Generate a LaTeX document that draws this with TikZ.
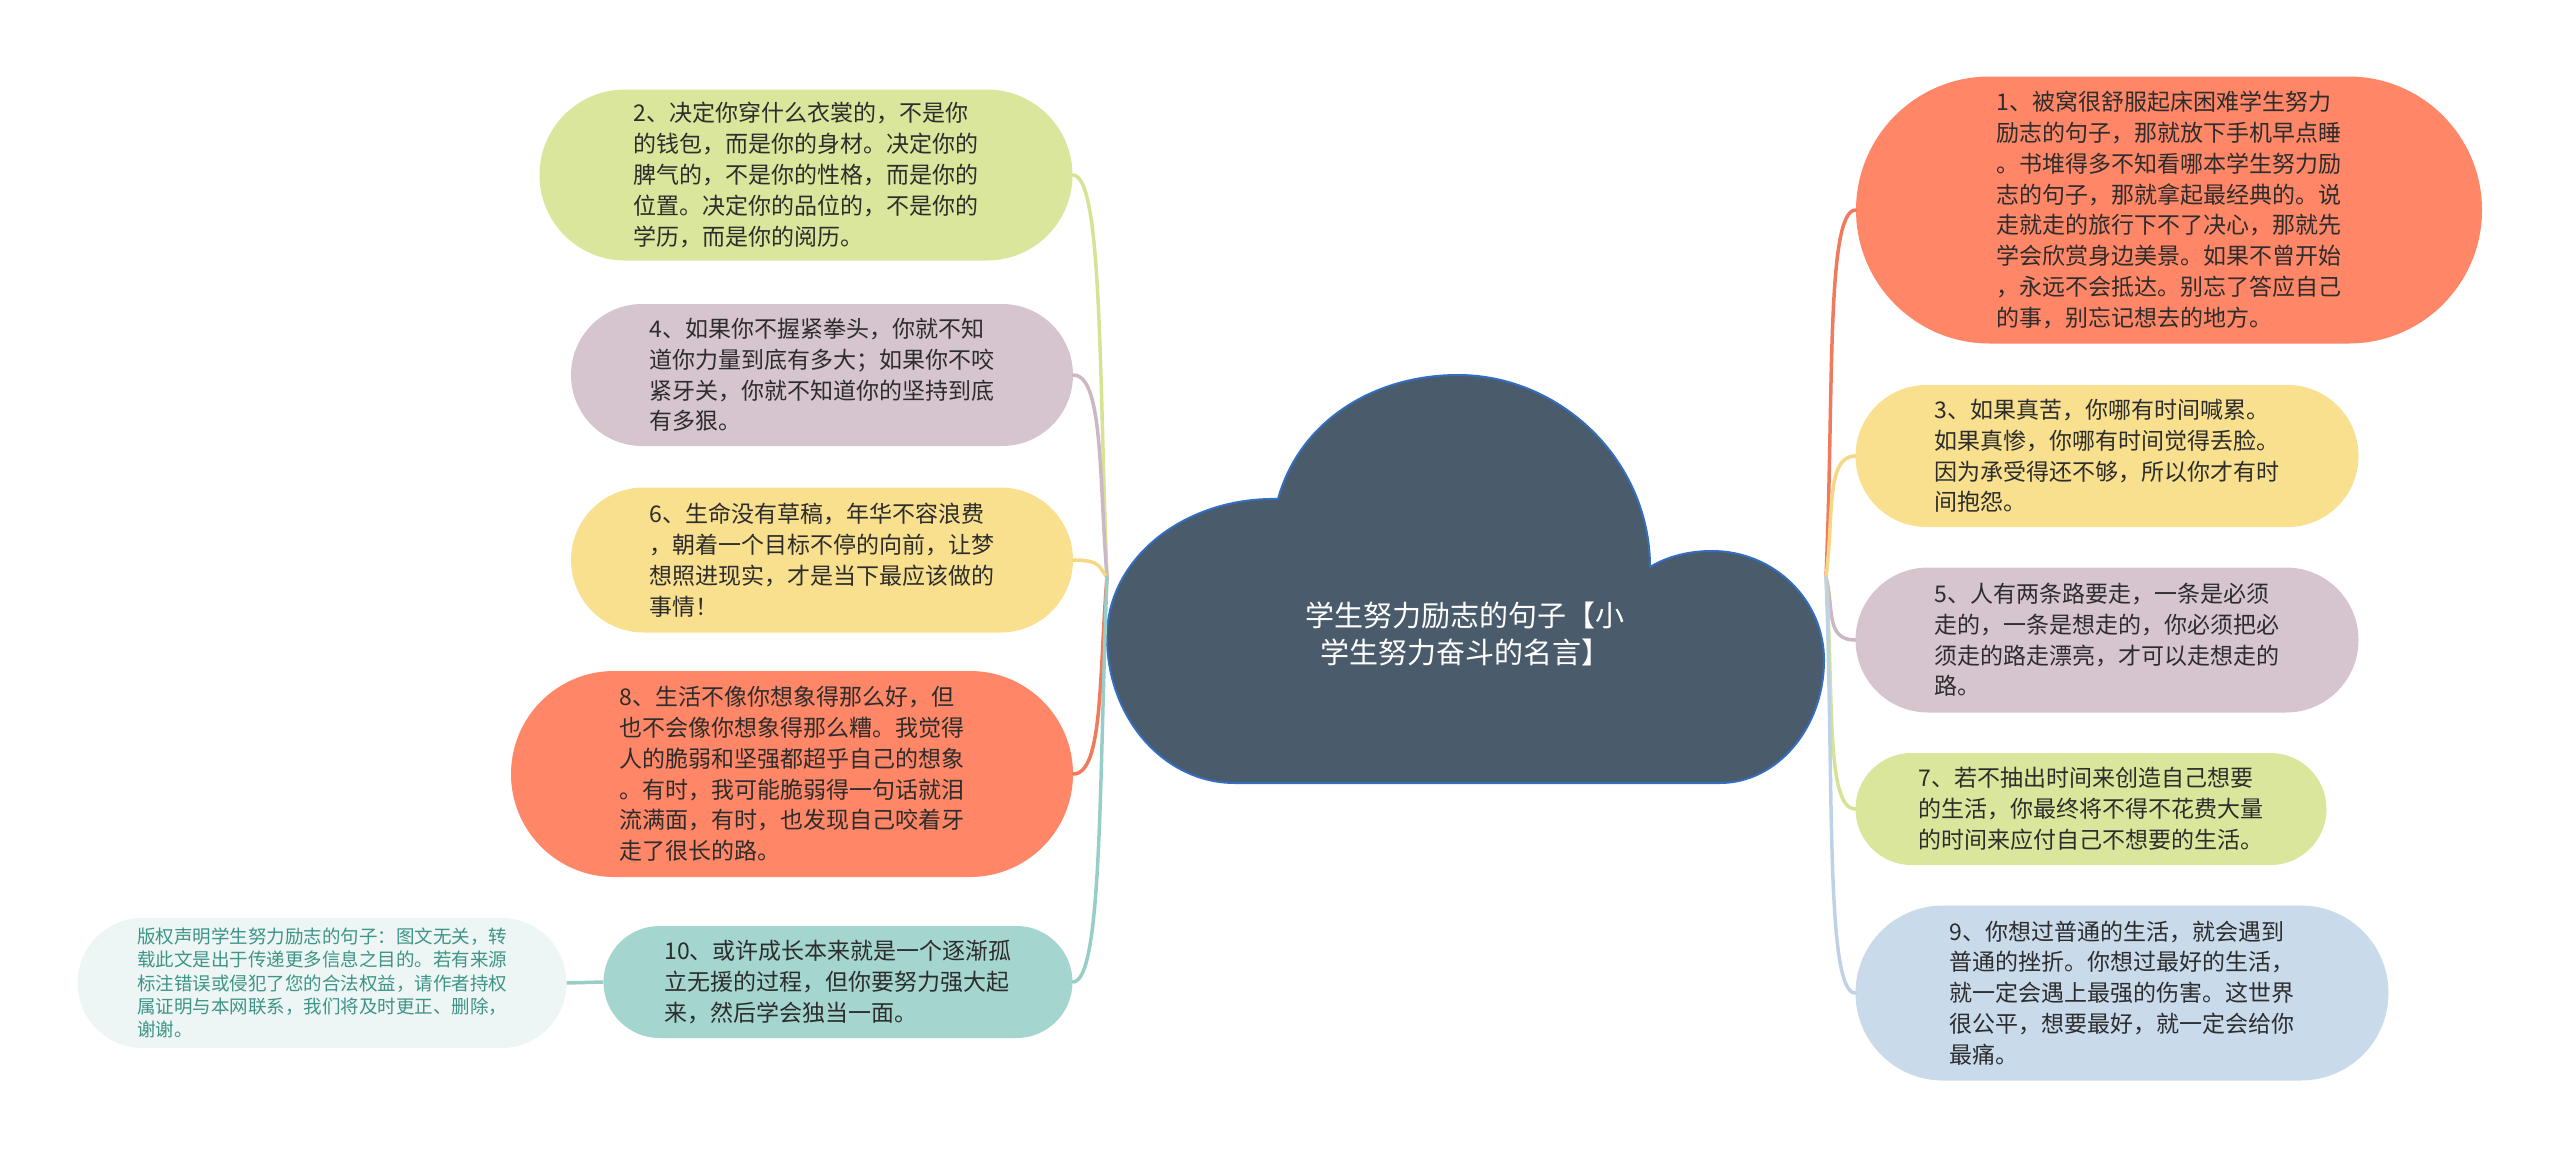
\documentclass[tikz,border=0pt]{standalone}
\usepackage{fontspec}
\setmainfont{Noto Sans CJK SC}
\usetikzlibrary{shapes.misc}

\definecolor{fgreen}{RGB}{218,230,155}
\definecolor{fmauve}{RGB}{214,196,207}
\definecolor{fyellow}{RGB}{248,224,142}
\definecolor{fsalmon}{RGB}{255,134,103}
\definecolor{fteal}{RGB}{164,213,207}
\definecolor{fblue}{RGB}{201,218,235}
\definecolor{fnote}{RGB}{237,246,244}
\definecolor{notetext}{RGB}{62,148,136}
\definecolor{lgreen}{RGB}{214,226,148}
\definecolor{lmauve}{RGB}{204,184,197}
\definecolor{lyellow}{RGB}{246,216,132}
\definecolor{lsalmon}{RGB}{240,122,92}
\definecolor{lteal}{RGB}{152,206,200}
\definecolor{lblue}{RGB}{190,210,230}
\definecolor{cloudfill}{RGB}{74,91,107}
\definecolor{cloudedge}{RGB}{52,110,190}
\definecolor{leaftext}{RGB}{45,45,45}

\begin{document}
\begin{tikzpicture}[x=1pt,y=-1pt,
  leaf/.style={rounded rectangle, inner sep=0pt, align=left, text=leaftext,
    font=\fontsize{23}{30.8}\selectfont},
  note/.style={rounded rectangle, inner sep=0pt, align=left, fill=fnote, text=notetext,
    font=\fontsize{18.5}{23.3}\selectfont},
  link/.style={line width=3.5pt, line cap=round}]
        \useasboundingbox (0,0) rectangle (2560,1159);
        % central cloud
        \fill[cloudfill, draw=cloudedge, line width=2pt] (1235,783)
          .. controls (1164,783) and (1107,718) .. (1107,637)
          .. controls (1107,558) and (1185,497) .. (1278,499)
          .. controls (1300,420) and (1375,375) .. (1458,375)
          .. controls (1560,375) and (1650,460) .. (1650,567)
          .. controls (1668,556) and (1690,551) .. (1712,551)
          .. controls (1774,551) and (1824,600) .. (1824,660)
          .. controls (1824,728) and (1777,783) .. (1720,783) -- cycle;
        \node[white, align=center, font=\fontsize{29}{37.5}\selectfont] (root) at (1465,634)
          {学生努力励志的句子【小\\学生努力奋斗的名言】};
        \coordinate (hubL) at (1107,577);
        \coordinate (hubR) at (1826,577);
        % left side
        \node[leaf, fill=fgreen, minimum width=533, minimum height=171] (n2) at (806,175)
          {2、决定你穿什么衣裳的，不是你\\的钱包，而是你的身材。决定你的\\脾气的，不是你的性格，而是你的\\位置。决定你的品位的，不是你的\\学历，而是你的阅历。};
        \node[leaf, fill=fmauve, minimum width=502, minimum height=142] (n4) at (822,375)
          {4、如果你不握紧拳头，你就不知\\道你力量到底有多大；如果你不咬\\紧牙关，你就不知道你的坚持到底\\有多狠。};
        \node[leaf, fill=fyellow, minimum width=502, minimum height=145] (n6) at (822,560)
          {6、生命没有草稿，年华不容浪费\\，朝着一个目标不停的向前，让梦\\想照进现实，才是当下最应该做的\\事情！};
        \node[leaf, fill=fsalmon, minimum width=562, minimum height=206] (n8) at (792,774)
          {8、生活不像你想象得那么好，但\\也不会像你想象得那么糟。我觉得\\人的脆弱和坚强都超乎自己的想象\\。有时，我可能脆弱得一句话就泪\\流满面，有时，也发现自己咬着牙\\走了很长的路。};
        \node[leaf, fill=fteal, minimum width=469, minimum height=112] (n10) at (838,982)
          {10、或许成长本来就是一个逐渐孤\\立无援的过程，但你要努力强大起\\来，然后学会独当一面。};
        \node[note, minimum width=489, minimum height=130] (copy) at (322,983)
          {版权声明学生努力励志的句子：图文无关，转\\载此文是出于传递更多信息之目的。若有来源\\标注错误或侵犯了您的合法权益，请作者持权\\属证明与本网联系，我们将及时更正、删除，\\谢谢。};
        % right side
        \node[leaf, fill=fsalmon, minimum width=626, minimum height=267] (n1) at (2169,210)
          {1、被窝很舒服起床困难学生努力\\励志的句子，那就放下手机早点睡\\。书堆得多不知看哪本学生努力励\\志的句子，那就拿起最经典的。说\\走就走的旅行下不了决心，那就先\\学会欣赏身边美景。如果不曾开始\\，永远不会抵达。别忘了答应自己\\的事，别忘记想去的地方。};
        \node[leaf, fill=fyellow, minimum width=503, minimum height=142] (n3) at (2107,456)
          {3、如果真苦，你哪有时间喊累。\\如果真惨，你哪有时间觉得丢脸。\\因为承受得还不够，所以你才有时\\间抱怨。};
        \node[leaf, fill=fmauve, minimum width=503, minimum height=145] (n5) at (2107,640)
          {5、人有两条路要走，一条是必须\\走的，一条是想走的，你必须把必\\须走的路走漂亮，才可以走想走的\\路。};
        \node[leaf, fill=fgreen, minimum width=471, minimum height=112] (n7) at (2091,809)
          {7、若不抽出时间来创造自己想要\\的生活，你最终将不得不花费大量\\的时间来应付自己不想要的生活。};
        \node[leaf, fill=fblue, minimum width=533, minimum height=175] (n9) at (2122,993)
          {9、你想过普通的生活，就会遇到\\普通的挫折。你想过最好的生活，\\就一定会遇上最强的伤害。这世界\\很公平，想要最好，就一定会给你\\最痛。};
        % branches
        \foreach \n/\c/\d in {n2/lgreen/-200, n4/lmauve/-100, n6/lyellow/-8, n8/lsalmon/98, n10/lteal/202}
          \draw[link, \c] (hubL) .. controls +(-8,\d) and +(30,0) .. (\n.east);
        \foreach \n/\c/\d in {n1/lsalmon/-183, n3/lyellow/-60, n5/lmauve/32, n7/lgreen/116, n9/lblue/208}
          \draw[link, \c] (hubR) .. controls +(8,\d) and +(-30,0) .. (\n.west);
        \draw[link, lteal, line cap=butt] (copy.east) -- (n10.west);
      \end{tikzpicture}
\end{document}
